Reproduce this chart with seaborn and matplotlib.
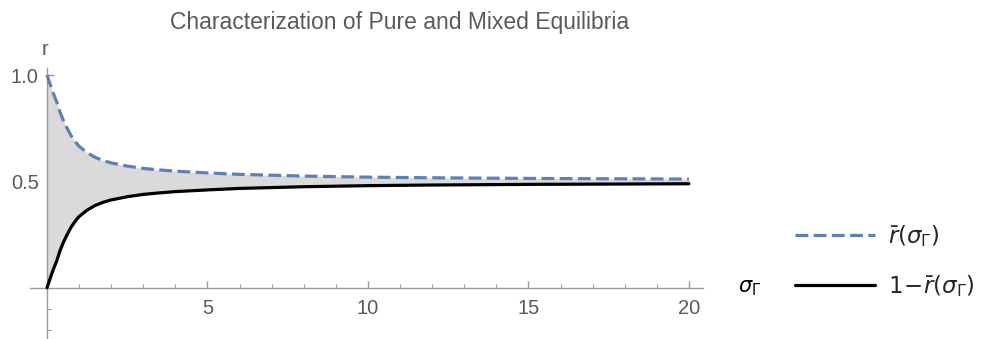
import matplotlib
matplotlib.use("Agg")
import matplotlib.pyplot as plt
import seaborn as sns
import numpy as np
from matplotlib.ticker import FixedLocator

#######################
# DATOS
#######################

sigma = [0, 0.1, 0.2, 0.3, 0.4, 0.5, 0.6, 0.75, 0.9, 1.0, 1.25, 1.5, 1.75, 2.0,
         2.5, 3.0, 3.5, 4.0, 5.0, 6.0, 7.0, 8.0, 10.0, 12.0, 15.0, 20.0]
r_bar = [1.0, 0.955, 0.912, 0.875, 0.828, 0.790, 0.758, 0.715, 0.683, 0.665,
         0.635, 0.613, 0.598, 0.587, 0.572, 0.561, 0.554, 0.548, 0.540, 0.533,
         0.529, 0.525, 0.520, 0.517, 0.514, 0.511]
one_minus_r_bar = [0.0, 0.045, 0.088, 0.125, 0.172, 0.210, 0.242, 0.285, 0.317, 0.335,
                   0.365, 0.387, 0.402, 0.413, 0.428, 0.439, 0.446, 0.452, 0.460, 0.467,
                   0.471, 0.475, 0.480, 0.483, 0.486, 0.489]

x_major = [5, 10, 15, 20]
x_minor = list(range(1, 21))
y_major = [0.5, 1.0]
y_minor = [-0.2, -0.1, 0.1, 0.2, 0.3, 0.4, 0.6, 0.7, 0.8, 0.9]

title = "Characterization of Pure and Mixed Equilibria"
label_upper = r"$\bar{r}(\sigma_\Gamma)$"
label_lower = r"$1\!-\!\bar{r}(\sigma_\Gamma)$"

##############################
# FIGURA
##############################

sns.set_style("white")
plt.rcParams['font.family'] = ['Liberation Sans', 'DejaVu Sans']
plt.rcParams['mathtext.fontset'] = 'dejavusans'

W, H = 987, 339
fig = plt.figure(figsize=(W / 100, H / 100), dpi=100)
ax = fig.add_axes([30 / W, 1 / H, 673 / W, 270 / H])

blue = "#5E81B5"
gray_axis = "#9a9a9a"
gray_text = "#5a5a5a"

ax.fill_between(sigma, one_minus_r_bar, r_bar, color="#DADADA", lw=0, zorder=1)
sns.lineplot(x=sigma, y=r_bar, ax=ax, color=blue, lw=2.3, linestyle=(0, (4, 1.7)),
             label=label_upper, legend=False, zorder=3)
sns.lineplot(x=sigma, y=one_minus_r_bar, ax=ax, color="black", lw=2.3,
             label=label_lower, legend=False, zorder=3)

ax.set_xlim(-0.53, 20.44)
ax.set_ylim(-0.236, 1.033)

# ejes al estilo Mathematica
for s in ["top", "right"]:
    ax.spines[s].set_visible(False)
ax.spines["left"].set_position(("data", 0))
ax.spines["bottom"].set_position(("data", 0))
for s in ["left", "bottom"]:
    ax.spines[s].set_color(gray_axis)
    ax.spines[s].set_linewidth(1.0)

ax.xaxis.set_major_locator(FixedLocator(x_major))
ax.xaxis.set_minor_locator(FixedLocator(x_minor))
ax.yaxis.set_major_locator(FixedLocator(y_major))
ax.yaxis.set_minor_locator(FixedLocator(y_minor))
ax.set_xticklabels([str(v) for v in x_major])
ax.set_yticklabels([f"{v:.1f}" for v in y_major])
ax.tick_params(axis="both", which="both", bottom=True, left=True, top=False, right=False)
ax.tick_params(axis="both", which="major", direction="in", length=5, width=1.0,
               color=gray_axis, labelcolor=gray_text, labelsize=14.5)
ax.tick_params(axis="both", which="minor", direction="in", length=3, width=0.8,
               color=gray_axis)
ax.tick_params(axis="x", which="major", pad=8)
ax.tick_params(axis="y", which="major", pad=6)
ax.set_xlabel("")
ax.set_ylabel("")

ax.text(-0.06, 1.118, "r", ha="center", va="center", fontsize=14.5, color=gray_text,
        clip_on=False)
ax.text(21.9, 0.0, r"$\sigma_\Gamma$", ha="center", va="center", fontsize=15,
        color="black", clip_on=False)

fig.text(400 / W, 1 - 29 / H, title, ha="center", va="baseline", fontsize=16.5,
         color=gray_text)

fig.legend(loc="center left", bbox_to_anchor=(795 / W, 1 - 261 / H), frameon=False,
           fontsize=16.5, handlelength=3.5, handletextpad=0.55, labelspacing=1.05,
           borderpad=0, borderaxespad=0)

fig.savefig("out.png", dpi=100)
